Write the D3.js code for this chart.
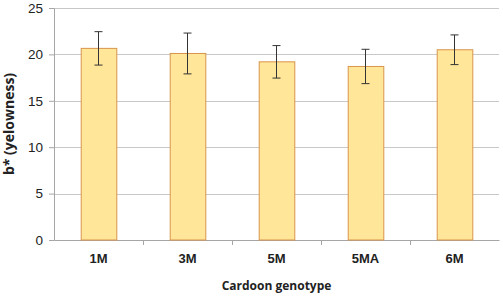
<!DOCTYPE html>
<html>
<head>
<meta charset="utf-8">
<script src="https://cdn.jsdelivr.net/npm/d3@7"></script>
<style>
  body { margin: 0; background: #fff; }
  svg { display: block; font-family: "Open Sans", "Liberation Sans", sans-serif; }
</style>
</head>
<body>
<svg id="chart" width="503" height="298"></svg>
<script>
// genotypes and b* values
var genotypes = ["1M", "3M", "5M", "5MA", "6M"];
var yellowness = [20.65, 20.1, 19.2, 18.7, 20.5];
var errors = [1.8, 2.2, 1.75, 1.85, 1.6];
var yTicks = [0, 5, 10, 15, 20, 25];

var margin = {top: 8, right: 4, bottom: 58, left: 54};
var width = 503 - margin.left - margin.right;
var height = 298 - margin.top - margin.bottom;

var svg = d3.select("#chart");
var g = svg.append("g").attr("transform", "translate(" + margin.left + "," + margin.top + ")");

var x = d3.scaleBand().domain(genotypes).range([0, width]).paddingInner(0.6).paddingOuter(0.3);
var band = d3.scaleBand().domain(genotypes).range([0, width]);
var y = d3.scaleLinear().domain([0, 25]).range([height, 0]);

// gridlines
g.selectAll(".grid").data(yTicks.slice(1)).enter().append("line")
  .attr("x1", 0).attr("x2", width)
  .attr("y1", function(d) { return Math.round(y(d)) + 0.5; })
  .attr("y2", function(d) { return Math.round(y(d)) + 0.5; })
  .attr("stroke", "#c8c8c8").attr("stroke-width", 1);

// y axis
var yAxis = g.append("g").call(d3.axisLeft(y).tickValues(yTicks).tickSize(5).tickPadding(6));
yAxis.select(".domain").attr("stroke", "#a6a6a6");
yAxis.selectAll(".tick line").attr("stroke", "#a6a6a6");
yAxis.selectAll("text").attr("font-size", 13.5).attr("fill", "#222");

// x axis
var xAxis = g.append("g").attr("transform", "translate(0," + height + ")")
  .call(d3.axisBottom(band).tickSize(0).tickSizeOuter(0).tickPadding(14));
xAxis.select(".domain").attr("stroke", "#a6a6a6");
xAxis.selectAll("text").attr("font-size", 13).attr("font-weight", "bold").attr("fill", "#222");
// category separators
g.selectAll(".sep").data(genotypes.slice(1)).enter().append("line")
  .attr("x1", function(d) { return Math.round(band(d)) + 0.5; })
  .attr("x2", function(d) { return Math.round(band(d)) + 0.5; })
  .attr("y1", height).attr("y2", height + 5)
  .attr("stroke", "#a6a6a6");

// bars
g.selectAll(".bar").data(genotypes).enter().append("rect")
  .attr("x", function(d) { return x(d) + 0.5; })
  .attr("y", function(d, i) { return y(yellowness[i]); })
  .attr("width", x.bandwidth())
  .attr("height", function(d, i) { return height - y(yellowness[i]); })
  .attr("fill", "#ffe699")
  .attr("stroke", "#d9944a")
  .attr("stroke-width", 1);

// error bars
var eb = g.selectAll(".err").data(genotypes).enter().append("g")
  .attr("transform", function(d) { return "translate(" + (x(d) + x.bandwidth() / 2) + ",0)"; });
eb.append("line").attr("x1", 0).attr("x2", 0)
  .attr("y1", function(d, i) { return y(yellowness[i] + errors[i]); })
  .attr("y2", function(d, i) { return y(yellowness[i] - errors[i]); })
  .attr("stroke", "#333");
eb.selectAll(".cap").data(function(d, i) { return [yellowness[i] + errors[i], yellowness[i] - errors[i]]; })
  .enter().append("line")
  .attr("x1", -4).attr("x2", 4)
  .attr("y1", function(d) { return y(d); })
  .attr("y2", function(d) { return y(d); })
  .attr("stroke", "#333");

// titles
svg.append("text").attr("x", margin.left + width / 2).attr("y", 290)
  .attr("text-anchor", "middle").attr("font-size", 12).attr("font-weight", "bold").attr("fill", "#222")
  .text("Cardoon genotype");
svg.append("text").attr("transform", "translate(14," + (margin.top + height / 2) + ") rotate(-90)")
  .attr("text-anchor", "middle").attr("font-size", 14).attr("font-weight", "bold").attr("fill", "#222")
  .text("b* (yelowness)");
</script>
</body>
</html>
